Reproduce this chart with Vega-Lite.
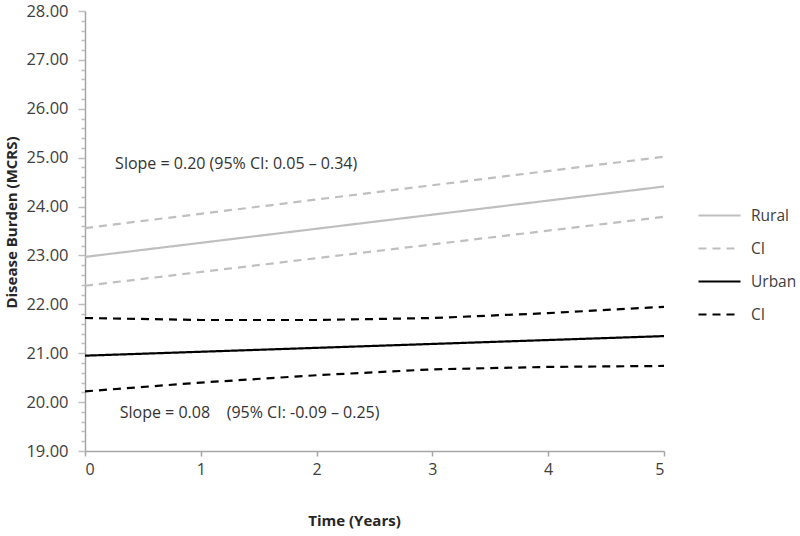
{
  "$schema": "https://vega.github.io/schema/vega-lite/v6.json",
  "width": 579,
  "height": 440,
  "autosize": "none",
  "padding": {"left": 85, "top": 11, "right": 136, "bottom": 85},
  "background": "white",
  "config": {
    "view": {"stroke": null},
    "font": "Open Sans"
  },
  "datasets": {
    "lines": [
      {"series": "Rural", "line": "r", "x": 0, "y": 22.97},
      {"series": "Rural", "line": "r", "x": 5, "y": 24.41},
      {"series": "Rural CI", "line": "ru", "x": 0, "y": 23.56},
      {"series": "Rural CI", "line": "ru", "x": 5, "y": 25.02},
      {"series": "Rural CI", "line": "rl", "x": 0, "y": 22.38},
      {"series": "Rural CI", "line": "rl", "x": 5, "y": 23.79},
      {"series": "Urban", "line": "u", "x": 0, "y": 20.95},
      {"series": "Urban", "line": "u", "x": 5, "y": 21.35},
      {"series": "Urban CI", "line": "uu", "x": 0, "y": 21.72},
      {"series": "Urban CI", "line": "uu", "x": 1, "y": 21.68},
      {"series": "Urban CI", "line": "uu", "x": 2, "y": 21.68},
      {"series": "Urban CI", "line": "uu", "x": 3, "y": 21.72},
      {"series": "Urban CI", "line": "uu", "x": 4, "y": 21.82},
      {"series": "Urban CI", "line": "uu", "x": 5, "y": 21.95},
      {"series": "Urban CI", "line": "ul", "x": 0, "y": 20.22},
      {"series": "Urban CI", "line": "ul", "x": 1, "y": 20.4},
      {"series": "Urban CI", "line": "ul", "x": 2, "y": 20.55},
      {"series": "Urban CI", "line": "ul", "x": 3, "y": 20.67},
      {"series": "Urban CI", "line": "ul", "x": 4, "y": 20.72},
      {"series": "Urban CI", "line": "ul", "x": 5, "y": 20.74}
    ],
    "notes": [
      {"x": 0.26, "y": 24.87, "text": "Slope = 0.20 (95% CI: 0.05 \u2013 0.34)"},
      {"x": 0.3, "y": 19.78, "text": "Slope = 0.08\u00a0\u00a0\u00a0\u00a0(95% CI: -0.09 \u2013 0.25)"}
    ]
  },
  "layer": [
    {
      "data": {"name": "lines"},
      "mark": {"type": "line", "clip": true},
      "encoding": {
        "x": {
          "field": "x", "type": "quantitative",
          "scale": {"domain": [0, 5], "nice": false, "zero": false},
          "axis": {
            "title": "Time (Years)",
            "titleFontSize": 15, "titleFontWeight": "bold", "titleColor": "#262626",
            "titlePadding": 36, "titleX": 269,
            "values": [0, 1, 2, 3, 4, 5],
            "format": "d",
            "labelFontSize": 16, "labelColor": "#404040", "labelPadding": 5,
            "domainColor": "#a6a6a6", "domainWidth": 1.5,
            "tickColor": "#a6a6a6", "tickSize": 5, "tickWidth": 1.5,
            "grid": false
          }
        },
        "y": {
          "field": "y", "type": "quantitative",
          "scale": {"domain": [19, 28], "nice": false, "zero": false},
          "axis": {
            "title": "Disease Burden (MCRS)",
            "titleFontSize": 15, "titleFontWeight": "bold", "titleColor": "#262626",
            "titlePadding": 6, "titleY": 211,
            "tickCount": 46,
            "values": [19, 19.2, 19.4, 19.6, 19.8, 20, 20.2, 20.4, 20.6, 20.8, 21, 21.2, 21.4, 21.6, 21.8, 22, 22.2, 22.4, 22.6, 22.8, 23, 23.2, 23.4, 23.6, 23.8, 24, 24.2, 24.4, 24.6, 24.8, 25, 25.2, 25.4, 25.6, 25.8, 26, 26.2, 26.4, 26.6, 26.8, 27, 27.2, 27.4, 27.6, 27.8, 28],
            "labelExpr": "abs(datum.value - round(datum.value)) < 0.01 ? format(datum.value, '.2f') : ''",
            "labelOverlap": false,
            "labelFontSize": 16.5, "labelColor": "#404040", "labelPadding": 10,
            "domainColor": "#a6a6a6", "domainWidth": 1.5,
            "tickColor": "#bfbfbf",
            "tickSize": {"condition": {"test": "abs(datum.value - round(datum.value)) < 0.01", "value": 7}, "value": 4},
            "tickWidth": 1.5,
            "grid": false
          }
        },
        "color": {
          "field": "series", "type": "nominal",
          "scale": {"domain": ["Rural", "Rural CI", "Urban", "Urban CI"], "range": ["#bfbfbf", "#bfbfbf", "#000000", "#000000"]},
          "legend": {
            "title": null,
            "orient": "none", "legendX": 612, "legendY": 182,
            "labelExpr": "indexof(datum.label, 'CI') >= 0 ? 'CI' : datum.label",
            "labelFontSize": 15.5, "labelColor": "#404040",
            "symbolType": "stroke", "symbolSize": 1764, "symbolStrokeWidth": 2.2,
            "rowPadding": 2, "labelOffset": 9
          }
        },
        "strokeDash": {
          "field": "series", "type": "nominal",
          "scale": {"domain": ["Rural", "Rural CI", "Urban", "Urban CI"], "range": [[1, 0], [8, 6], [1, 0], [8, 6]]},
          "legend": null
        },
        "detail": {"field": "line"},
        "strokeWidth": {"value": 2.2}
      }
    },
    {
      "data": {"name": "notes"},
      "mark": {"type": "text", "align": "left", "baseline": "middle", "fontSize": 16, "color": "#333333"},
      "encoding": {
        "x": {"field": "x", "type": "quantitative"},
        "y": {"field": "y", "type": "quantitative"},
        "text": {"field": "text"}
      }
    }
  ]
}
